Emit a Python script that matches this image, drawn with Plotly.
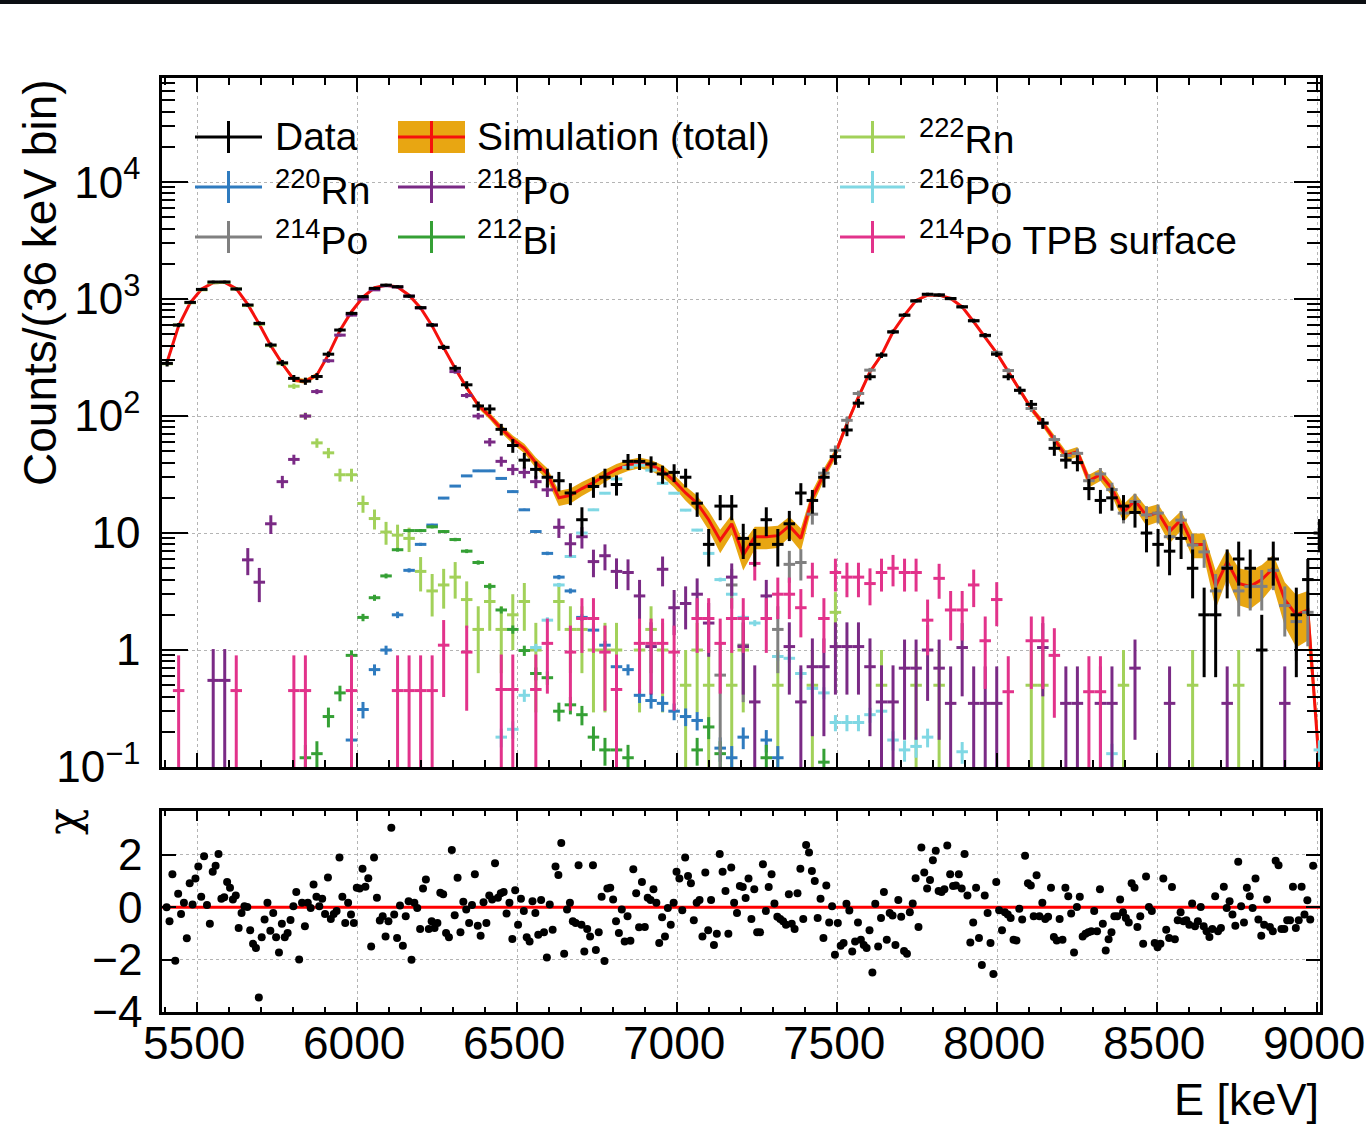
import numpy as np
import plotly.graph_objects as go

W, H = 1366, 1127
FONT = "Liberation Sans, Arial, Helvetica, sans-serif"

# ---------------- binning ----------------
BIN_LO = 5388.0      # first edge of the 36 keV spectrum bins
BIN_W = 36.0
RES_LO = 5400.0      # first edge of the 9 keV residual bins
RES_W = 9.0
Y_FLOOR = 0.1        # bottom of the log axis

# ---------------- spectrum (counts per 36 keV bin) ----------------
data_counts = [
    282, 600, 937, 1210, 1400, 1400, 1220, 890, 620, 405,
    285, 210, 199, 218, 338, 544, 755, 1050, 1235, 1316,
    1275, 1060, 845, 600, 387, 256, 185, 122, 115, 77,
    56, 42, 35, 30, 28, 22, 13, 25, 30, 26,
    41, 41, 39, 32, 33, 30, 18, 8, 17, 17,
    9, 8, 13, 8, 12, 22, 19, 30, 45, 76,
    129, 217, 332, 526, 730, 967, 1100, 1083, 1012, 860,
    654, 490, 338, 217, 166, 126, 87, 53, 42, 40,
    24, 19, 20, 17, 15, 10, 8, 7, 9, 5,
    2, 2, 5, 6, 5, 1, 6, None, 2, 4,
    10,
]

sim_total = [
    290, 590, 930, 1220, 1380, 1390, 1230, 900, 610, 400,
    280, 205, 198, 225, 335, 540, 780, 1040, 1250, 1310,
    1270, 1080, 840, 590, 385, 255, 175, 124, 100, 78,
    63, 53, 40, 32, 20, 21, 24, 27, 31, 35,
    38, 40, 38, 34, 28, 22, 18, 13, 8.7, 12,
    6.5, 9.3, 9.3, 9.5, 11.5, 9, 20, 32, 48, 86,
    146, 239, 332, 526, 730, 975, 1080, 1080, 1012, 860,
    640, 470, 345, 240, 166, 116, 87, 63, 46, 49.6,
    28, 31.6, 24, 15, 19, 14, 15, 10.3, 13, 8,
    8, 3.5, 5.7, 3.7, 3.5, 4.0, 5.0, 2.7, 2.0, 2.2,
    0.1,
]

rn222 = [
    280, 600, 930, 1200, 1380, 1390, 1220, 880, 610, 400,
    280, 180, 100, 59, 48.5, 31.5, 31.5, 17.9, 13.3, 10.2,
    9.6, 9.0, 4.7, 3.2, 3.6, 4.2, 2.7, 1.5, 2.6, 1.5,
    2.0, 2.6, 1.0, None, 2.6, 1.5, 1.5, 1.0, 1.0, 1.0,
    None, 1.0, 1.5, 1.0, None, 0.5, 1.0, 0.5, None, 0.5,
    1.0, None, None, 0.5, None, None, 0.5, None, 2.1, None,
    None, None, 0.5, None, None, 0.5, None, 0.5, None, None,
    None, None, None, None, None, 0.5, 0.5, None, None, None,
    None, None, None, 0.5, None, None, None, None, None, 0.5,
    None, None, None, 0.5, None, None, None, None, None, None,
    None,
]

rn220 = [
    None, None, None, None, None, None, None, None, None, None,
    None, None, None, None, None, None, 0.17, 0.31, 0.68, 1.0,
    2.0, 4.8, 8.0, 11.7, 19.9, 25.2, 30.8, 34, 34, 29.3,
    22.6, 15.8, 10.3, 6.7, 4.2, 3.2, 1.9, 1.48, 1.1, 0.72,
    0.68, 0.41, 0.37, 0.35, 0.30, 0.27, 0.25, None, 0.145, 0.12,
    0.18, None, 0.17, 0.12, None, None, None, None, None, None,
    None, None, None, None, None, None, None, None, None, None,
    None, None, None, None, None, None, None, None, None, None,
    None, None, None, None, None, None, None, None, None, None,
    None, None, None, None, None, None, None, None, None, None,
    None,
]

po218 = [
    None, None, None, None, 0.55, 0.55, None, 5.9, 3.8, 12,
    27.5, 42.6, 100, 162, 297, 492, 730, 1000, 1200, 1300,
    1270, 1060, 840, 600, 385, 240, 150, 100, 60, 41,
    35, 33, 27.5, 23.4, 11.2, 8.1, 9.3, 5.7, 6.4, 4.7,
    4.6, 2.9, 1.07, 4.9, 2.3, 2.5, 3.0, 1.7, None, 4.2,
    1.07, 0.36, 2.9, None, 1.07, 0.36, 0.72, 0.72, 1.07, 1.07,
    1.07, 0.72, 0.36, 0.36, 0.7, 0.7, 1.0, 0.7, 0.35, 1.05,
    0.35, 0.35, 0.35, None, None, None, 1.05, None, 0.35, 0.35,
    None, 0.35, 0.35, None, 0.7, None, None, 0.35, None, None,
    None, None, 0.35, None, None, None, None, 0.35, None, None,
    None,
]

po216 = [
    None, None, None, None, None, None, None, None, None, None,
    None, None, None, None, None, None, None, None, None, None,
    None, None, None, None, None, None, None, None, None, 0.18,
    0.21, 0.41, 1.05, 1.8, 3.6, 6.3, 10, 15.8, 21.9, 29,
    36.5, 38, 34.5, 26.6, 21.9, 15.7, 10.6, 6.7, 4.0, 3.0,
    1.9, 1.7, None, 0.88, 0.85, 0.63, 0.47, 0.43, 0.24, 0.24,
    0.24, 0.28, 0.30, 0.17, 0.14, 0.15, 0.18, None, None, 0.135,
    None, None, None, None, None, None, None, None, None, None,
    None, None, 0.13, None, None, None, None, None, None, None,
    None, None, None, None, None, None, None, None, None, None,
    0.14,
]

po214 = [
    None, None, None, None, None, None, None, None, None, None,
    None, None, None, None, None, None, None, None, None, None,
    None, None, None, None, None, None, None, None, None, None,
    None, None, None, None, None, None, None, None, None, None,
    None, None, None, None, None, None, None, None, 0.61, 3.6,
    1.1, None, None, 1.5, 5.4, 5.6, 14.5, 32.5, 51, 92,
    156, 247, 332, 520, 725, 960, 1090, 1090, 1005, 855,
    650, 485, 350, 245, 166, 116, 87, 63, 46, 48,
    28, 32, 23.5, 14.8, 18.6, 14.3, 14.8, 9.3, 12.9, 7.9,
    6.9, 3.2, 5.1, 3.2, 3.5, 3.5, 4.8, 2.4, 1.75, 2.1,
    None,
]

bi212 = [
    None, None, None, None, None, None, None, None, None, None,
    None, None, 0.12, 0.13, 0.27, 0.43, 0.9, 1.9, 2.8, 4.3,
    7.2, 10.5, 10.5, 11.3, 10.3, 8.8, 7.0, 5.6, 3.5, 2.2,
    1.5, 0.99, 0.63, 0.58, 0.30, 0.34, 0.28, 0.18, 0.14, 0.14,
    0.12, None, None, None, None, None, 0.14, 0.22, 0.13, None,
    None, None, 0.12, None, None, None, None, 0.11, None, None,
    None, None, None, None, None, None, None, None, None, None,
    None, None, None, None, None, None, None, None, None, None,
    None, None, None, None, None, None, None, None, None, None,
    None, None, None, None, None, None, None, None, None, None,
    None,
]

po214_tpb = [
    None, 0.45, None, None, None, None, 0.45, None, None, None,
    None, 0.45, 0.45, None, None, None, 0.45, None, None, None,
    0.45, 0.45, 0.45, 0.45, 1.1, None, 0.96, None, None, 0.46,
    0.46, None, 0.46, 1.14, None, 0.96, 1.86, 1.86, 0.96, 0.46,
    None, 1.14, 1.14, 1.14, 0.96, None, 1.86, 1.86, 1.14, 1.86,
    1.86, 5.5, 1.86, 3.0, 3.0, 2.3, 4.2, 1.86, 4.6, 4.2,
    4.2, 3.7, 4.6, 5.0, 4.6, 4.6, 1.8, 4.1, 2.2, 2.2,
    3.6, 1.2, 2.7, 0.44, None, 1.2, 1.2, 0.9, None, None,
    0.44, 0.44, None, None, None, None, None, None, None, None,
    None, None, None, None, None, None, None, None, None, None,
    None,
]

# ---------------- residuals, chi per 9 keV bin ----------------
chi = [
    0.00, -0.54, 1.26, -2.04, 0.51, -0.26, 0.17, -1.19, 0.91, 0.10,
    1.09, 1.55, 0.40, 1.94, 0.08, -0.63, 1.35, 1.58, 2.03, 0.32,
    0.38, 0.96, 0.74, 0.29, 0.45, -0.79, -0.22, 0.04, 0.01, -0.88,
    -1.40, -1.56, -3.45, -1.15, -0.47, 0.17, -0.90, -0.22, -1.15, -1.73,
    -0.63, -1.15, -0.99, -0.49, 0.04, 0.58, -2.00, 0.17, -0.73, 0.17,
    -0.03, 0.87, 0.40, 0.04, 0.32, -0.26, 1.13, -0.45, -0.26, -0.15,
    1.90, 0.40, -0.60, 0.17, -0.28, -0.60, 0.74, 0.71, 1.47, 0.78,
    1.10, -1.50, 1.90, 0.36, -0.51, -0.35, -1.12, -0.54, 3.03, -0.28,
    -1.18, 0.06, -1.47, -0.35, 0.23, -2.01, 0.17, -0.03, -0.83, 0.71,
    1.06, -0.83, -0.54, -0.79, -0.60, 0.55, 0.49, -0.99, -1.15, 2.18,
    -0.31, 1.12, -0.96, 0.21, -0.09, -0.60, 0.08, 1.26, -0.71, -1.09,
    0.19, -0.60, 0.45, 0.29, 1.68, 0.36, 0.53, 0.58, -0.24, 0.17,
    -1.21, 0.65, -0.67, 0.32, -0.15, -1.15, -1.31, 0.23, -0.22, -1.05,
    0.27, -0.96, -1.92, 0.10, -0.86, 1.55, 1.23, 2.45, -1.78, -0.09,
    0.17, -0.54, -0.60, 1.60, -0.67, -1.69, -0.83, -1.12, 1.60, -1.63,
    -0.96, 0.40, -2.05, 0.71, 0.74, 0.29, -0.54, -0.99, -0.09, -1.31,
    -0.35, -1.28, 1.45, 0.53, -0.77, 0.96, -0.76, 0.36, 0.27, 0.68,
    0.17, -1.37, -0.38, -1.12, -0.03, -0.67, 0.17, 1.35, 1.09, -0.12,
    1.90, 1.19, 0.91, -0.50, 0.17, 0.27, -1.12, 1.32, -0.88, 0.27,
    -1.44, -1.01, 2.03, 1.35, 0.62, -1.01, 1.51, 0.17, -0.22, 0.81,
    0.77, 0.35, 1.09, -0.45, 0.68, -0.96, -0.96, 1.64, -0.15, 0.77,
    1.26, 0.14, -0.37, -0.45, -0.54, -0.67, 0.49, -0.63, -0.83, 0.53,
    1.47, -0.45, 2.37, 2.09, 1.38, 1.00, -0.41, 0.32, -1.18, 0.83,
    -0.58, 0.04, -1.82, -0.60, -1.47, -1.37, 0.13, -0.13, -1.69, -1.31,
    -0.58, -1.24, -1.44, -1.56, -0.88, -2.49, 0.13, -1.50, -0.41, 0.58,
    -1.24, -0.22, -0.32, -1.44, 0.27, -0.37, -1.67, -1.78, -0.19, 0.14,
    1.10, -0.76, 2.28, 1.32, 0.71, 1.04, 1.79, 2.15, 0.62, 0.58,
    0.68, 2.35, 1.26, 0.81, 0.83, 1.26, 0.71, 2.03, 0.45, -1.35,
    -0.58, 0.74, -1.18, -2.21, 0.45, -0.22, -1.37, -2.55, 0.96, -0.12,
    -0.88, -0.19, -0.28, -0.41, -1.24, -1.27, -0.06, -0.47, 1.96, 0.91,
    0.83, -0.35, 1.22, -0.35, 0.17, -0.45, -0.37, 0.74, -1.14, -1.27,
    -0.45, -1.24, 0.74, 0.42, -0.24, -1.73, 0.01, 0.40, -1.12, -1.01,
    -0.96, -0.92, -0.15, -0.92, 0.68, -0.63, -1.65, -1.22, -0.96, -0.35,
    -0.35, 0.29, -0.19, -0.41, -0.58, 0.91, 0.74, -0.76, -0.35, -1.40,
    1.17, 0.01, -0.15, -1.37, -1.53, -1.40, 1.09, -0.86, -1.18, 0.77,
    -1.22, -0.50, -0.19, -0.54, -0.50, -0.67, 0.14, -0.73, -0.54, 0.01,
    -0.73, -0.92, -1.14, -0.83, 0.42, -0.92, -0.79, 0.78, -0.03, 0.23,
    -0.28, -0.71, 1.73, 0.04, -0.58, 0.74, 0.42, -0.03, 1.09, -0.47,
    -1.09, -0.67, 0.29, -0.76, -0.92, 1.77, 1.60, -0.83, -0.83, -0.50,
    -0.50, 0.78, -0.79, -0.50, 0.78, -0.28, 0.26, -0.47, 1.58,
]

# axis ticks
x_ticks = [5500, 6000, 6500, 7000, 7500, 8000, 8500, 9000]
y_ticks = [0.1, 1, 10, 100, 1000, 10000]
y_tick_text = ["10<sup>\u22121</sup>", "1", "10", "10<sup>2</sup>", "10<sup>3</sup>", "10<sup>4</sup>"]
chi_ticks = [-4, -2, 0, 2]
chi_tick_text = ["\u22124", "\u22122", "0", "2"]

# MC weight of a single entry for each component (sets its Poisson error)
weights = {
    "rn222": 0.5, "rn220": 0.008, "po218": 0.4, "po216": 0.006,
    "po214": 0.5, "bi212": 0.01, "tpb": 0.45,
}

COL = {
    "data": "#000000",
    "sim_band": "#e8a612",
    "sim_line": "#f5110d",
    "rn220": "#2f7bbf",
    "po218": "#7a2a85",
    "po214": "#808080",
    "bi212": "#35a035",
    "rn222": "#a2d15a",
    "po216": "#80d8e4",
    "tpb": "#e2338b",
}

n_bins = len(data_counts)
energy = BIN_LO + BIN_W * (np.arange(n_bins) + 0.5)
res_energy = RES_LO + RES_W * (np.arange(len(chi)) + 0.5)

fig = go.Figure()


def cross_trace(values, color, weight, xa="x", ya="y", thick=3):
    xs, ys, up, dn = [], [], [], []
    for e, v in zip(energy, values):
        if v is None:
            continue
        err = float(np.sqrt(weight * v))
        xs.append(float(e))
        ys.append(v)
        up.append(err)
        dn.append(v - max(v - err, Y_FLOOR))
    return go.Scatter(
        x=xs, y=ys, mode="markers", xaxis=xa, yaxis=ya,
        marker=dict(size=2, color=color),
        error_y=dict(type="data", symmetric=False, array=up, arrayminus=dn,
                     color=color, thickness=thick, width=0),
        error_x=dict(type="constant", value=BIN_W / 2, color=color,
                     thickness=thick, width=0),
        showlegend=False, hoverinfo="skip",
    )


# simulation total with its statistical band
sim = np.array(sim_total, dtype=float)
sim_err = np.minimum(np.sqrt(0.45 * sim), 0.5 * sim)
fig.add_trace(go.Scatter(x=energy, y=np.maximum(sim - sim_err, Y_FLOOR), mode="lines",
                         line=dict(width=0, color=COL["sim_band"]), showlegend=False,
                         hoverinfo="skip"))
fig.add_trace(go.Scatter(x=energy, y=sim + sim_err, mode="lines", fill="tonexty",
                         fillcolor=COL["sim_band"], line=dict(width=0, color=COL["sim_band"]),
                         showlegend=False, hoverinfo="skip"))
fig.add_trace(go.Scatter(x=energy, y=sim, mode="lines",
                         line=dict(width=3, color=COL["sim_line"]),
                         showlegend=False, hoverinfo="skip"))

# components
fig.add_trace(cross_trace(rn222, COL["rn222"], weights["rn222"]))
fig.add_trace(cross_trace(rn220, COL["rn220"], weights["rn220"]))
fig.add_trace(cross_trace(po216, COL["po216"], weights["po216"]))
fig.add_trace(cross_trace(bi212, COL["bi212"], weights["bi212"]))
fig.add_trace(cross_trace(po214, COL["po214"], weights["po214"]))
fig.add_trace(cross_trace(po218, COL["po218"], weights["po218"]))
fig.add_trace(cross_trace(po214_tpb, COL["tpb"], weights["tpb"]))

# measured spectrum
fig.add_trace(cross_trace(data_counts, COL["data"], 1.0))

# residual panel
fig.add_trace(go.Scatter(x=[5390, 9008], y=[0, 0], mode="lines", xaxis="x2", yaxis="y2",
                         line=dict(color="#ff0000", width=3), showlegend=False,
                         hoverinfo="skip"))
fig.add_trace(go.Scatter(x=res_energy, y=chi, mode="markers", xaxis="x2", yaxis="y2",
                         marker=dict(color="black", size=8), showlegend=False,
                         hoverinfo="skip"))

X_DOM = [162 / W, 1320 / W]
MAIN_DOM = [1 - 767 / H, 1 - 78 / H]
RES_DOM = [1 - 1012 / H, 1 - 811 / H]
X_RANGE = [5390, 9008]

grid = dict(showgrid=True, gridcolor="#b4b4b4", griddash="dot", gridwidth=1.3)
frame = dict(showline=True, linecolor="black", linewidth=2.5, mirror="allticks",
             zeroline=False, ticks="inside", tickcolor="black", automargin=False,
             ticklabeloverflow="allow")

minor_y = [m * 10.0 ** e for e in range(-1, 5) for m in range(2, 10)]

fig.update_layout(
    width=W, height=H,
    margin=dict(l=0, r=0, t=0, b=0, pad=0, autoexpand=False),
    paper_bgcolor="white", plot_bgcolor="white",
    font=dict(family=FONT, color="black"),
    xaxis=dict(domain=X_DOM, anchor="y", range=X_RANGE, tickvals=x_ticks,
               showticklabels=False, ticklen=14, tickwidth=2,
               minor=dict(ticks="inside", dtick=100, tick0=5500, ticklen=7,
                          tickwidth=1.5, tickcolor="black", showgrid=False),
               **grid, **frame),
    yaxis=dict(domain=MAIN_DOM, anchor="x", type="log", range=[-1, 4.89],
               tickvals=y_ticks, ticktext=y_tick_text, ticklen=26, tickwidth=2,
               tickfont=dict(size=44, family=FONT), ticklabelstandoff=10,
               minor=dict(ticks="inside", tickvals=minor_y, ticklen=13,
                          tickwidth=1.5, tickcolor="black", showgrid=False),
               **grid, **frame),
    xaxis2=dict(domain=X_DOM, anchor="y2", range=X_RANGE, tickvals=x_ticks,
                showticklabels=False, ticklen=10, tickwidth=2,
                minor=dict(ticks="inside", dtick=100, tick0=5500, ticklen=5,
                           tickwidth=1.5, tickcolor="black", showgrid=False),
                **grid, **frame),
    yaxis2=dict(domain=RES_DOM, anchor="x2", range=[-4, 3.67],
                tickvals=chi_ticks, ticktext=chi_tick_text, ticklen=14, tickwidth=2,
                tickfont=dict(size=44, family=FONT), ticklabelstandoff=8,
                **grid, **frame),
)


def px_x(p):
    return p / W


def px_y(p):
    return 1 - p / H


shapes = [
    # dark strip along the top edge
    dict(type="rect", xref="paper", yref="paper", x0=0, x1=1, y0=px_y(4), y1=1,
         fillcolor="#0b0e12", line=dict(width=0), layer="above"),
]
annotations = [
    dict(text="Counts/(36 keV bin)", x=px_x(40), y=px_y(283), xref="paper", yref="paper",
         textangle=-90, showarrow=False, font=dict(size=46, family=FONT),
         xanchor="center", yanchor="middle"),
    dict(text="\u03c7", x=px_x(63), y=px_y(822), xref="paper", yref="paper",
         textangle=-90, showarrow=False, font=dict(size=44, family="DejaVu Serif"),
         xanchor="center", yanchor="middle"),
    dict(text="E [keV]", x=px_x(1321), y=px_y(1099), xref="paper", yref="paper",
         showarrow=False, font=dict(size=45, family=FONT),
         xanchor="right", yanchor="middle"),
]

# energy tick labels under the residual panel
for t in x_ticks:
    annotations.append(dict(text=str(t), x=t, xref="x2", y=px_y(1043), yref="paper",
                            xshift=-3, showarrow=False, xanchor="center", yanchor="middle",
                            font=dict(size=46, family=FONT)))

# legend, three columns
legend_rows = [137, 187, 237]
legend_cols = [(195, 262, 273), (398, 465, 475), (840, 905, 917)]
legend_items = [
    ("Data", "data", 0, 0),
    ("Simulation (total)", "sim", 0, 1),
    ("<sup>222</sup>Rn", "rn222", 0, 2),
    ("<sup>220</sup>Rn", "rn220", 1, 0),
    ("<sup>218</sup>Po", "po218", 1, 1),
    ("<sup>216</sup>Po", "po216", 1, 2),
    ("<sup>214</sup>Po", "po214", 2, 0),
    ("<sup>212</sup>Bi", "bi212", 2, 1),
    ("<sup>214</sup>Po TPB surface", "tpb", 2, 2),
]
for label, key, r, c in legend_items:
    yc = legend_rows[r]
    x0, x1, xt = legend_cols[c]
    xm = (x0 + x1) / 2
    if key == "sim":
        shapes.append(dict(type="rect", xref="paper", yref="paper",
                           x0=px_x(x0), x1=px_x(x1), y0=px_y(yc + 16), y1=px_y(yc - 16),
                           fillcolor=COL["sim_band"], line=dict(width=0)))
        color = COL["sim_line"]
    else:
        color = COL[key]
    shapes.append(dict(type="line", xref="paper", yref="paper",
                       x0=px_x(x0), x1=px_x(x1), y0=px_y(yc), y1=px_y(yc),
                       line=dict(color=color, width=3)))
    shapes.append(dict(type="line", xref="paper", yref="paper",
                       x0=px_x(xm), x1=px_x(xm), y0=px_y(yc + 16), y1=px_y(yc - 16),
                       line=dict(color=color, width=3)))
    annotations.append(dict(text=label, x=px_x(xt), y=px_y(yc), xref="paper", yref="paper",
                            showarrow=False, xanchor="left", yanchor="middle",
                            font=dict(size=39, family=FONT)))

fig.update_layout(shapes=shapes, annotations=annotations)

fig.write_html("out.html")
